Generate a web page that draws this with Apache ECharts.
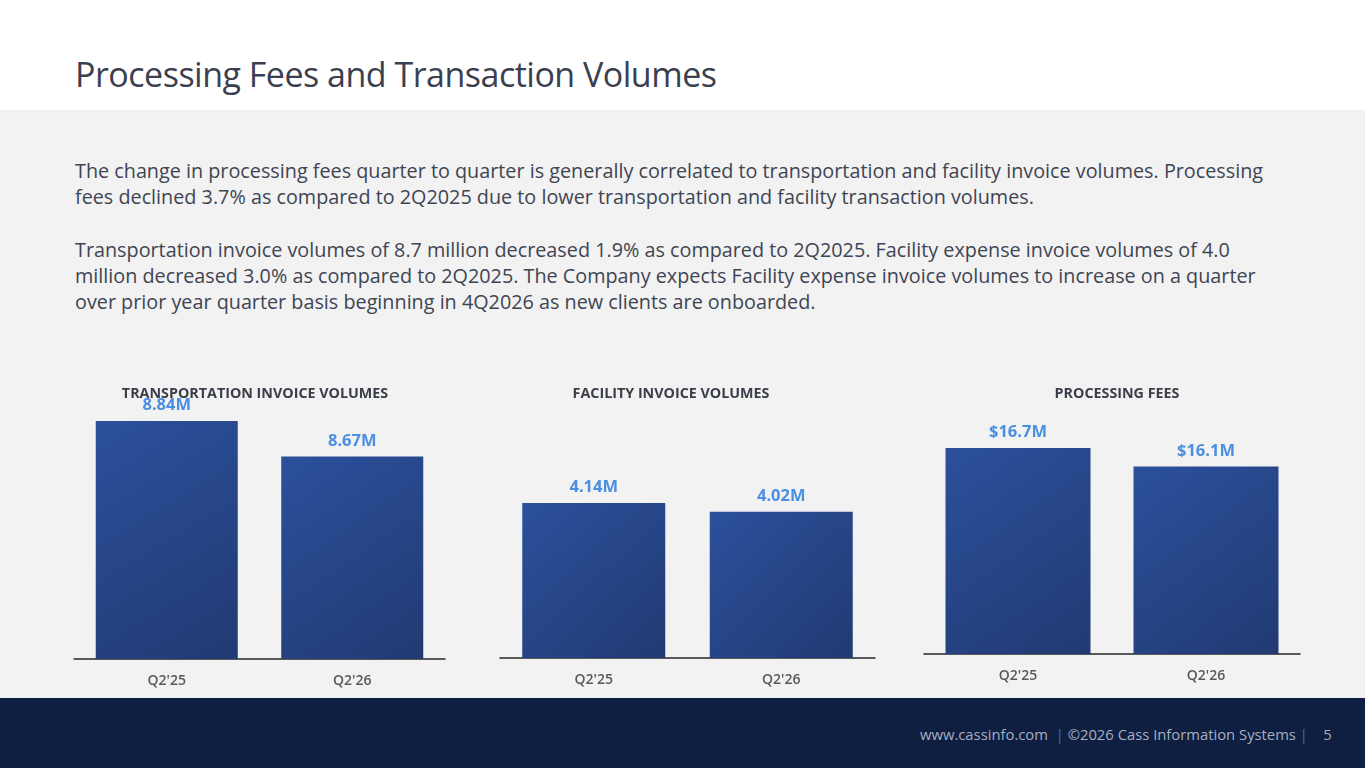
<!DOCTYPE html>
<html>
<head>
<meta charset="utf-8">
<script src="https://cdn.jsdelivr.net/npm/echarts@6/dist/echarts.min.js"></script>
<style>
  html, body { margin: 0; padding: 0; width: 1365px; height: 768px; overflow: hidden; font-family: "Open Sans", sans-serif; }
  #top { position: absolute; left: 0; top: 0; width: 1365px; height: 110px; background: #ffffff; }
  #mid { position: absolute; left: 0; top: 110px; width: 1365px; height: 588px; background: #f2f2f2; }
  #foot { position: absolute; left: 0; top: 698px; width: 1365px; height: 70px; background: #0e1f42; }
  #title { position: absolute; left: 75px; top: 57px; font-size: 34px; line-height: 34px; color: #3b4050; white-space: nowrap; letter-spacing: -0.5px; }
  .para { position: absolute; left: 75px; font-size: 19.8px; color: #404552; line-height: 26px; white-space: nowrap; letter-spacing: 0px; }
  #footText { position: absolute; left: 920px; top: 724px; font-size: 14.8px; color: #a7aec0; white-space: pre; }
  #footText .bar { color: #2f6fcf; }
  #chart { position: absolute; left: 0; top: 0; width: 1365px; height: 768px; }
</style>
</head>
<body>
<div id="top"></div>
<div id="mid"></div>
<div id="foot"></div>
<div id="title">Processing Fees and Transaction Volumes</div>
<div class="para" style="top:158px">The change in processing fees quarter to quarter is generally correlated to transportation and facility invoice volumes. Processing<br>fees declined 3.7% as compared to 2Q2025 due to lower transportation and facility transaction volumes.</div>
<div class="para" style="top:237px">Transportation invoice volumes of 8.7 million decreased 1.9% as compared to 2Q2025. Facility expense invoice volumes of 4.0<br>million decreased 3.0% as compared to 2Q2025. The Company expects Facility expense invoice volumes to increase on a quarter<br>over prior year quarter basis beginning in 4Q2026 as new clients are onboarded.</div>
<div id="footText">www.cassinfo.com  <span class="bar">|</span> ©2026 Cass Information Systems <span class="bar">|</span>    5</div>
<div id="chart"></div>
<script>
// data
var categories = ["Q2'25", "Q2'26"];
var transportVolumes = [8.84, 8.67];
var facilityVolumes = [4.14, 4.02];
var processingFees = [16.7, 16.1];
var panelTitles = ['TRANSPORTATION INVOICE VOLUMES', 'FACILITY INVOICE VOLUMES', 'PROCESSING FEES'];

(function () {
    var barColor = {
        type: 'linear', x: 0, y: 0, x2: 1, y2: 1,
        colorStops: [{ offset: 0, color: '#2c509c' }, { offset: 1, color: '#213a72' }]
    };
    // panel layout: grid box, y range, bar width
    var panels = [
        { left: 74, width: 371, top: 387.6, axisY: 659, min: 7.7, max: 9, barW: 142, cx: 250,
          data: transportVolumes, fmt: function (v) { return v.toFixed(2) + 'M'; } },
        { left: 500, width: 375, top: 368.3, axisY: 658, min: 2, max: 6, barW: 143, cx: 666,
          data: facilityVolumes, fmt: function (v) { return v.toFixed(2) + 'M'; } },
        { left: 924, width: 376, top: 346.5, axisY: 654, min: 10, max: 20, barW: 145, cx: 1112,
          data: processingFees, fmt: function (v) { return '$' + v.toFixed(1) + 'M'; } }
    ];
    var grids = [], xAxes = [], yAxes = [], series = [], titles = [];
    panels.forEach(function (p, i) {
        grids.push({ left: p.left, width: p.width, top: p.top, height: p.axisY - p.top });
        xAxes.push({
            type: 'category', gridIndex: i, data: categories,
            axisTick: { show: false },
            axisLine: { lineStyle: { color: '#262626', width: 1.5 } },
            axisLabel: { color: '#595959', fontSize: 14, fontWeight: 600, margin: 15, fontFamily: 'Open Sans' }
        });
        yAxes.push({ type: 'value', gridIndex: i, min: p.min, max: p.max, show: false, splitLine: { show: false } });
        series.push({
            type: 'bar', xAxisIndex: i, yAxisIndex: i, data: p.data, barWidth: p.barW,
            itemStyle: { color: barColor },
            label: {
                show: true, position: 'top', distance: 7,
                color: '#4a8fe0', fontSize: 16.5, fontWeight: 'bold', fontFamily: 'Open Sans',
                formatter: function (o) { return p.fmt(o.value); }
            }
        });
        titles.push({
            text: panelTitles[i], left: p.cx, top: 382, textAlign: 'center',
            textStyle: { color: '#3a3e48', fontSize: 14.3, fontWeight: 'bold', fontFamily: 'Open Sans' }
        });
    });
    var myChart = echarts.init(document.getElementById('chart'), null, { renderer: 'canvas' });
    myChart.setOption({
        backgroundColor: 'transparent',
        animation: false,
        title: titles,
        grid: grids,
        xAxis: xAxes,
        yAxis: yAxes,
        series: series
    });
})();
</script>
</body>
</html>
